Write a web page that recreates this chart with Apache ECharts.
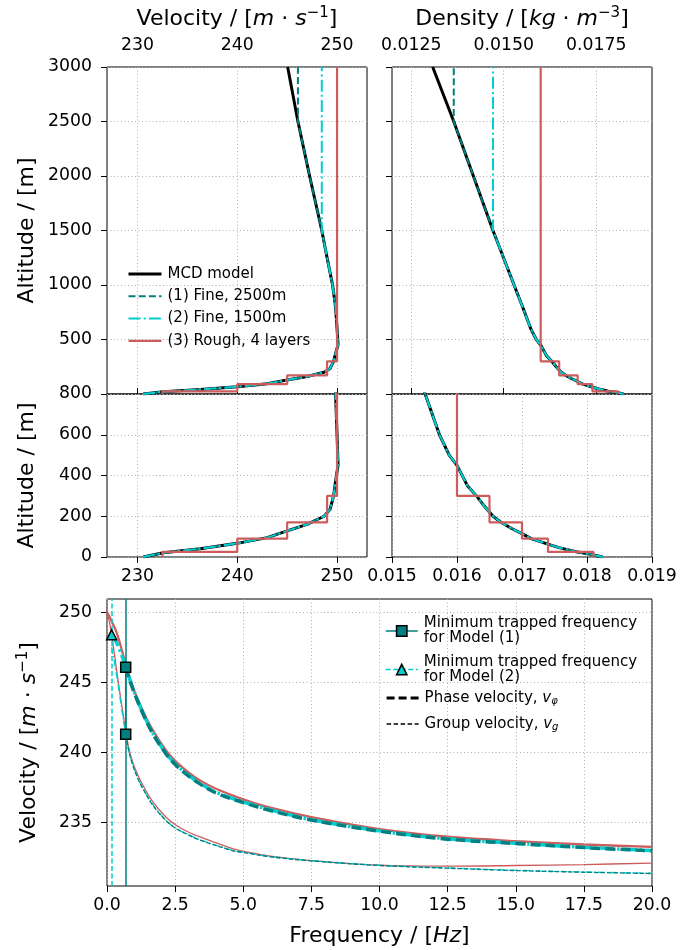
<!DOCTYPE html>
<html><head><meta charset="utf-8">
<script src="https://cdn.jsdelivr.net/npm/echarts@6/dist/echarts.min.js"></script>
<style>html,body{margin:0;padding:0;background:#fff}#c{width:681px;height:950px}</style>
</head><body><div id="c"></div>
<script>
// ---------------- Data ----------------
// MCD model velocity profile
const mcdVelAlt = [0, 21, 41, 67, 95, 128, 160, 200, 234, 300, 381, 450, 600, 800, 1000, 1250, 1500, 2000, 2500, 3000];
const mcdVel    = [230.57, 232.6, 236.3, 240.0, 243.0, 245.0, 247.0, 248.7, 249.3, 249.65, 249.88, 250.1, 250.0, 249.85, 249.55, 249.0, 248.47, 247.25, 246.08, 245.05];
// MCD model density profile
const mcdDensAlt = [0, 13, 26, 46, 62, 90, 115, 140, 172, 201, 250, 300, 350, 450, 500, 600, 800, 1000, 1500, 2000, 2500, 3000];
const mcdDens    = [0.01824, 0.01806, 0.01783, 0.01757, 0.01741, 0.01714, 0.01700, 0.01684, 0.01667, 0.01655, 0.01642, 0.01630, 0.01616, 0.01600, 0.01588, 0.01573, 0.01551, 0.01528, 0.01471, 0.01418, 0.01365, 0.01308];
// Model cut-off altitudes (fine models follow MCD below, constant above)
const model1Top = 2500;
const model2Top = 1500;
// Rough model (3): layer tops and layer values
const roughTop  = [25, 90, 170, 300, 3000];
const roughVel  = [232.5, 240.0, 245.0, 249.0, 250.0];
const roughDens = [0.0181, 0.0174, 0.0170, 0.0165, 0.0160];

// Dispersion curves: phase velocity
const freqPhase3 = [0, 0.17, 0.34, 0.5, 0.69, 0.96, 1.32, 1.69, 2.18, 2.52, 3.0, 3.41, 4.0, 5.0, 6.0, 7.5, 10, 12.5, 15, 17.5, 20];
const velPhase3  = [250.0, 249.35, 248.6, 247.6, 246.25, 244.6, 242.95, 241.55, 240.1, 239.35, 238.55, 238.0, 237.4, 236.65, 236.05, 235.38, 234.53, 233.98, 233.67, 233.43, 233.26];
const freqPhase1 = [0.686, 0.96, 1.32, 1.69, 2.18, 2.52, 3.0, 3.41, 4.0, 5.0, 6.0, 7.5, 10, 12.5, 15, 17.5, 20];
const velPhase1  = [246.07, 244.45, 242.75, 241.3, 239.85, 239.1, 238.3, 237.75, 237.1, 236.42, 235.85, 235.17, 234.38, 233.81, 233.5, 233.21, 232.98];
const freqPhase2 = [0.17, 0.3, 0.45, 0.6, 0.686, 0.96, 1.32, 1.69, 2.18, 2.52, 3.0, 3.41, 4.0, 5.0, 6.0, 7.5, 10, 12.5, 15, 17.5, 20];
const velPhase2  = [248.38, 248.0, 247.4, 246.6, 246.1, 244.5, 242.8, 241.35, 239.9, 239.15, 238.35, 237.8, 237.15, 236.47, 235.9, 235.2, 234.4, 233.83, 233.52, 233.23, 233.0];
// Dispersion curves: group velocity
const freqGroup3 = [0, 0.1, 0.2, 0.3, 0.4, 0.5, 0.6, 0.69, 0.8, 0.96, 1.15, 1.32, 1.69, 2.18, 2.52, 3.0, 3.41, 4.63, 5.0, 6.0, 7.5, 10, 12.5, 15, 17.5, 20];
const velGroup3  = [250.0, 249.2, 248.0, 246.6, 245.2, 243.9, 242.6, 241.5, 240.3, 239.2, 238.3, 237.65, 236.45, 235.35, 234.82, 234.3, 233.97, 233.12, 232.95, 232.6, 232.28, 231.95, 231.88, 231.93, 232.0, 232.1];
const freqGroup1 = [0.686, 0.8, 0.96, 1.15, 1.32, 1.69, 2.18, 2.52, 3.0, 3.41, 4.63, 5.0, 6.0, 7.5, 10, 12.5, 15, 17.5, 20];
const velGroup1  = [241.29, 240.1, 239.0, 238.05, 237.4, 236.2, 235.1, 234.57, 234.1, 233.74, 232.98, 232.86, 232.55, 232.26, 231.93, 231.74, 231.57, 231.45, 231.36];
const freqGroup2 = [0.17, 0.3, 0.4, 0.5, 0.6, 0.686, 0.8, 0.96, 1.15, 1.32, 1.69, 2.18, 2.52, 3.0, 3.41, 4.63, 5.0, 6.0, 7.5, 10, 12.5, 15, 17.5, 20];
const velGroup2  = [247.5, 246.1, 244.9, 243.6, 242.3, 241.3, 240.15, 239.05, 238.1, 237.45, 236.25, 235.13, 234.6, 234.13, 233.77, 233.0, 232.88, 232.57, 232.28, 231.95, 231.76, 231.59, 231.47, 231.38];
// Minimum trapped frequencies and markers
const minFreq1 = 0.686;
const markVel1 = [246.07, 241.29];
const minFreq2 = 0.17;
const markVel2 = [248.38];

// Tick values
const velTicks  = [230, 240, 250];
const densTopTicks = [0.0125, 0.0150, 0.0175];
const dispVelTicks = [235, 240, 245, 250];

// ---------------- Helpers ----------------
const FONT = 'DejaVu Sans';
const TEAL = '#008080', CYAN = '#00ced1', RED = '#cd5c5c';
const GRIDLINE = {type: [1, 2.5], color: '#b0b0b0', width: 1};
function profile(alts, vals) { return alts.map((a, i) => [vals[i], a]); }
function truncated(alts, vals, cutoff) {
  const pts = [];
  for (let i = 0; i < alts.length; i++) if (alts[i] <= cutoff) pts.push([vals[i], alts[i]]);
  pts.push([vals[alts.indexOf(cutoff)], alts[alts.length - 1]]);
  return pts;
}
function steps(tops, vals) {
  const pts = []; let b = 0;
  for (let i = 0; i < vals.length; i++) { pts.push([vals[i], b]); pts.push([vals[i], tops[i]]); b = tops[i]; }
  return pts;
}
function zip(a, b) { return a.map((x, i) => [x, b[i]]); }

const richT = {
  n: {fontSize: 22, fontFamily: FONT, color: '#000', lineHeight: 26},
  i: {fontSize: 22, fontFamily: FONT, fontStyle: 'italic', color: '#000', lineHeight: 26},
  p: {fontSize: 15, fontFamily: FONT, color: '#000', lineHeight: 15, verticalAlign: 'top'}
};
const nameStyle = {fontSize: 22, fontFamily: FONT, color: '#000', rich: richT};

function axis(o) {
  const a = {
    type: 'value', gridIndex: o.grid, min: o.min, max: o.max, position: o.position,
    axisLine: {show: false},
    axisTick: {show: true, length: 6, lineStyle: {color: '#000', width: 1}},
    axisLabel: {show: o.labels !== false, fontSize: 17.3, fontFamily: FONT, color: '#000', margin: o.margin || 12,
                formatter: o.fmt, showMinLabel: true, showMaxLabel: true},
    splitLine: {show: true, lineStyle: GRIDLINE},
    name: o.name, nameLocation: 'middle', nameGap: o.nameGap, nameTextStyle: nameStyle, nameRotate: o.nameRotate
  };
  if (o.interval !== undefined) a.interval = o.interval;
  if (o.custom) { a.axisTick.customValues = o.custom; a.axisLabel.customValues = o.custom; }
  return a;
}

const grids = [
  {left: 107, top: 67, width: 260, height: 327},
  {left: 392, top: 67, width: 260, height: 327},
  {left: 107, top: 394, width: 260, height: 163},
  {left: 392, top: 394, width: 260, height: 163},
  {left: 107, top: 599, width: 545, height: 287}
].map(g => Object.assign(g, {show: true, borderColor: '#000', borderWidth: 1, backgroundColor: 'rgba(0,0,0,0)'}));

const VEL_NAME = '{n|Velocity / [}{i|m}{n| · }{i|s}{p|−1}{n|]}';
const xAxes = [
  axis({grid: 0, min: 226.95, max: 253.0, position: 'top', custom: velTicks, margin: 13,
        name: VEL_NAME, nameGap: 35}),
  axis({grid: 1, min: 0.01198, max: 0.01901, position: 'top', custom: densTopTicks, margin: 13, fmt: v => v.toFixed(4),
        name: '{n|Density / [}{i|kg}{n| · }{i|m}{p|−3}{n|]}', nameGap: 35}),
  axis({grid: 2, min: 226.95, max: 253.0, position: 'bottom', custom: velTicks, margin: 11}),
  axis({grid: 3, min: 0.015, max: 0.019, interval: 0.001, position: 'bottom', margin: 11, fmt: v => v.toFixed(3)}),
  axis({grid: 4, min: 0, max: 20, interval: 2.5, position: 'bottom', margin: 11, fmt: v => v.toFixed(1),
        name: '{n|Frequency / [}{i|Hz}{n|]}', nameGap: 37})
];
const yAxes = [
  axis({grid: 0, min: 0, max: 3000, interval: 500, position: 'left', margin: 15, fmt: v => v === 0 ? '' : String(v),
        name: '{n|Altitude / [m]}', nameGap: 67, nameRotate: 90}),
  axis({grid: 1, min: 0, max: 3000, interval: 500, position: 'left', labels: false}),
  axis({grid: 2, min: 0, max: 800, interval: 200, position: 'left', margin: 15,
        name: '{n|Altitude / [m]}', nameGap: 67, nameRotate: 90}),
  axis({grid: 3, min: 0, max: 800, interval: 200, position: 'left', labels: false}),
  axis({grid: 4, min: 230.47, max: 250.93, position: 'left', custom: dispVelTicks, margin: 15,
        name: VEL_NAME, nameGap: 65, nameRotate: 90})
];

const DASH = [7, 3.2], DASHDOT = [12, 3.2, 2, 3.2];
function line(name, idx, data, color, width, type, z) {
  return {type: 'line', name, xAxisIndex: idx, yAxisIndex: idx, data, symbol: 'none', showSymbol: false,
          lineStyle: {color, width, type}, itemStyle: {color}, z: z, clip: true, animation: false};
}
const series = [];
const N0 = 'MCD model', N1 = '(1) Fine, 2500m', N2 = '(2) Fine, 1500m', N3 = '(3) Rough, 4 layers';
[[0, mcdVelAlt, mcdVel, roughVel], [2, mcdVelAlt, mcdVel, roughVel],
 [1, mcdDensAlt, mcdDens, roughDens], [3, mcdDensAlt, mcdDens, roughDens]].forEach(([idx, alts, vals, rough]) => {
  series.push(line(N0, idx, profile(alts, vals), '#000', 3, 'solid', 2));
  series.push(line(N1, idx, truncated(alts, vals, model1Top), TEAL, 2, DASH, 3));
  series.push(line(N2, idx, truncated(alts, vals, model2Top), CYAN, 2, DASHDOT, 4));
  series.push(line(N3, idx, steps(roughTop, rough), RED, 2.2, 'solid', 5));
});

// Dispersion curves
function disp(name, f, v, color, width, type, z) {
  const s = line(name, 4, zip(f, v), color, width, type, z);
  s.smooth = 0.35;
  return s;
}
series.push(disp('p3', freqPhase3, velPhase3, RED, 2.3, 'solid', 2));
series.push(disp('p2', freqPhase2, velPhase2, CYAN, 3.5, [13, 3.5, 2.5, 3.5], 3));
series.push(disp('p1', freqPhase1, velPhase1, TEAL, 3.5, [10, 5], 4));
series.push(disp('g3', freqGroup3, velGroup3, RED, 1.3, 'solid', 2));
series.push(disp('g2', freqGroup2, velGroup2, CYAN, 1.3, [7, 2, 1.5, 2], 3));
series.push(disp('g1', freqGroup1, velGroup1, TEAL, 1.3, [4.5, 2], 4));
series.push(line('Phase velocity', 4, [], '#000', 3.2, [8, 4], 1));
series.push(line('Group velocity', 4, [], '#000', 1.4, [4.5, 2.5], 1));

const M1 = 'Minimum trapped frequency\nfor Model (1)', M2 = 'Minimum trapped frequency\nfor Model (2)';
series.push({
  type: 'line', name: M1, xAxisIndex: 4, yAxisIndex: 4, data: markVel1.map(v => [minFreq1, v]),
  symbol: 'rect', symbolSize: 10, z: 10, animation: false,
  lineStyle: {color: TEAL, width: 1.5}, itemStyle: {color: TEAL, borderColor: '#000', borderWidth: 1.5},
  markLine: {silent: true, symbol: ['none', 'none'], label: {show: false}, animation: false,
             lineStyle: {color: TEAL, width: 1.5, type: 'solid'}, emphasis: {disabled: true}, data: [{xAxis: minFreq1}]}
});
series.push({
  type: 'line', name: M2, xAxisIndex: 4, yAxisIndex: 4, data: markVel2.map(v => [minFreq2, v]),
  symbol: 'triangle', symbolSize: 10, z: 10, animation: false,
  lineStyle: {color: CYAN, width: 1.5, type: [5, 2.5]}, itemStyle: {color: CYAN, borderColor: '#000', borderWidth: 1.5},
  markLine: {silent: true, symbol: ['none', 'none'], label: {show: false}, animation: false,
             lineStyle: {color: CYAN, width: 1.5, type: [5, 2.5]}, emphasis: {disabled: true}, data: [{xAxis: minFreq2}]}
});

const legText = {fontSize: 15, fontFamily: FONT, color: '#000', lineHeight: 15, padding: [0, 0, 0, 1]};
const noSym = {opacity: 0};
const legends = [
  {left: 122, top: 260, orient: 'vertical', itemWidth: 33, itemHeight: 14, itemGap: 4.3, selectedMode: false,
   textStyle: Object.assign({}, legText, {lineHeight: 18}),
   data: [N0, N1, N2, N3].map(n => ({name: n, itemStyle: noSym, lineStyle: {width: 'inherit'}}))},
  {left: 380, top: 611, orient: 'vertical', itemWidth: 32, itemHeight: 13, itemGap: 8.5, selectedMode: false,
   textStyle: legText,
   data: [M1, M2].map(n => ({name: n, itemStyle: {borderWidth: 1.5, borderColor: '#000'}, lineStyle: {width: 'inherit'}}))},
  {left: 380, top: 685, orient: 'vertical', itemWidth: 32, itemHeight: 14, itemGap: 10, selectedMode: false,
   textStyle: Object.assign({}, legText, {lineHeight: 16, rich: {
     i: {fontSize: 15, fontFamily: FONT, fontStyle: 'italic', color: '#000', lineHeight: 16},
     s: {fontSize: 10, fontFamily: FONT, fontStyle: 'italic', color: '#000', lineHeight: 10, verticalAlign: 'bottom'}
   }}),
   formatter: n => n === 'Phase velocity' ? 'Phase velocity, {i|v}{s|φ}' : 'Group velocity, {i|v}{s|g}',
   data: ['Phase velocity', 'Group velocity'].map(n => ({name: n, itemStyle: noSym, lineStyle: {width: 'inherit'}}))}
];

const chart = echarts.init(document.getElementById('c'), null, {renderer: 'canvas'});
chart.setOption({
  animation: false,
  backgroundColor: '#fff',
  grid: grids, xAxis: xAxes, yAxis: yAxes, legend: legends, series: series
});
</script></body></html>
